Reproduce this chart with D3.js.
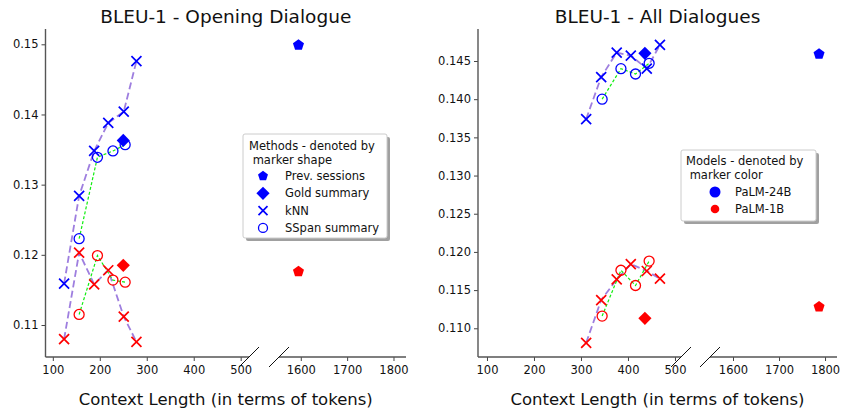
<!DOCTYPE html>
<html lang="en">
<head>
<meta charset="UTF-8">
<title>BLEU-1</title>
<style>
  body { margin: 0; background: #fff; }
  svg { font-family: "DejaVu Sans", sans-serif; }
</style>
</head>
<body>
<svg id="chart"></svg>
<script src="https://cdn.jsdelivr.net/npm/d3@7/dist/d3.min.js"></script>
<script>

// ---- data (context length in tokens, BLEU-1) ----
// Opening dialogue
var openKnnCtx    = [124, 156, 188, 218, 251, 278];
var openKnn24B    = [0.1159, 0.1284, 0.1348, 0.1388, 0.1404, 0.1476];
var openKnn1B     = [0.1080, 0.1203, 0.1158, 0.1178, 0.1112, 0.1076];
var openSspanCtx  = [156, 195, 228, 254];
var openSspan24B  = [0.1223, 0.1339, 0.1348, 0.1357];
var openSspan1B   = [0.1115, 0.1199, 0.1164, 0.1161];
var openGoldCtx   = [250];
var openGold24B   = [0.1363];
var openGold1B    = [0.1185];
var openPrevCtx   = [1595];
var openPrev24B   = [0.1499];
var openPrev1B    = [0.1176];

// All dialogues
var allKnnCtx     = [311, 343, 376, 406, 440, 468];
var allKnn24B     = [0.1374, 0.1429, 0.1461, 0.1457, 0.1440, 0.1471];
var allKnn1B      = [0.1081, 0.1137, 0.1164, 0.1184, 0.1175, 0.1165];
var allSspanCtx   = [345, 385, 416, 445];
var allSspan24B   = [0.1400, 0.1440, 0.1433, 0.1447];
var allSspan1B    = [0.1116, 0.1176, 0.1156, 0.1188];
var allGoldCtx    = [436];
var allGold24B    = [0.1460];
var allGold1B     = [0.1113];
var allPrevCtx    = [1787];
var allPrev24B    = [0.1459];
var allPrev1B     = [0.1128];

var xTicksLow  = [100, 200, 300, 400, 500];
var xTicksHigh = [1600, 1700, 1800];
var yTicksOpen = [0.11, 0.12, 0.13, 0.14, 0.15];
var yTicksAll  = [0.110, 0.115, 0.120, 0.125, 0.130, 0.135, 0.140, 0.145];

var methodNames = ["Prev. sessions", "Gold summary", "kNN", "SSpan summary"];
var methodShapes = ["pentagon", "diamond", "x", "circle"];
var modelNames = ["PaLM-24B", "PaLM-1B"];
var modelColors = ["#0000ff", "#ff0000"];

var width = 841, height = 412;
var svg = d3.select("#chart").attr("width", width).attr("height", height);

// marker paths
function markerPath(shape, r) {
    var p = d3.path();
    if (shape == "pentagon") {
        for (var k = 0; k < 5; k++) {
            var a = -Math.PI / 2 + k * 2 * Math.PI / 5;
            if (k == 0) p.moveTo(r * Math.cos(a), r * Math.sin(a));
            else p.lineTo(r * Math.cos(a), r * Math.sin(a));
        }
        p.closePath();
    } else if (shape == "diamond") {
        p.moveTo(0, -r); p.lineTo(r, 0); p.lineTo(0, r); p.lineTo(-r, 0); p.closePath();
    } else if (shape == "x") {
        p.moveTo(-r, -r); p.lineTo(r, r); p.moveTo(-r, r); p.lineTo(r, -r);
    } else {
        p.arc(0, 0, r, 0, 2 * Math.PI);
    }
    return p.toString();
}
var markerSize = { pentagon: 5.8, diamond: 6.6, x: 5, circle: 5 };

function drawMarker(g, shape, color, x, y, scale) {
    var r = markerSize[shape] * (scale || 1);
    var m = g.append("path")
        .attr("d", markerPath(shape, r))
        .attr("transform", "translate(" + x + "," + y + ")");
    if (shape == "x") m.attr("fill", "none").attr("stroke", color).attr("stroke-width", 1.7);
    else if (shape == "circle") m.attr("fill", "none").attr("stroke", color).attr("stroke-width", 1.3);
    else m.attr("fill", color);
}

function drawPanel(cfg) {
    var g = svg.append("g");
    var xLow = d3.scaleLinear().domain(cfg.lowDomain).range(cfg.lowRange);
    var xHigh = d3.scaleLinear().domain(cfg.highDomain).range(cfg.highRange);
    var y = d3.scaleLinear().domain(cfg.yDomain).range([357, 29]);
    function xPos(v) { return v < 1000 ? xLow(v) : xHigh(v); }

    // axes
    var axL = g.append("g").attr("transform", "translate(" + cfg.lowRange[0] + ",0)")
        .call(d3.axisLeft(y).tickValues(cfg.yTicks).tickFormat(d3.format(cfg.yFmt)).tickSize(4).tickPadding(3));
    var axB1 = g.append("g").attr("transform", "translate(0,357)")
        .call(d3.axisBottom(xLow).tickValues(xTicksLow).tickFormat(d3.format("d")).tickSize(4).tickPadding(3));
    var axB2 = g.append("g").attr("transform", "translate(0,357)")
        .call(d3.axisBottom(xHigh).tickValues(xTicksHigh).tickFormat(d3.format("d")).tickSize(4).tickPadding(3));
    [axL, axB1, axB2].forEach(function (a) {
        a.selectAll(".domain").remove();
        a.selectAll(".tick line").attr("stroke", "#444").attr("stroke-width", 1);
        a.selectAll(".tick text").attr("font-size", 11.5).attr("fill", "#111")
            .attr("font-family", "DejaVu Sans");
    });
    axB1.selectAll(".tick text").attr("dy", "0.85em");
    axB2.selectAll(".tick text").attr("dy", "0.85em");

    // spines
    var spine = "#555";
    g.append("line").attr("x1", cfg.lowRange[0]).attr("x2", cfg.lowRange[0])
        .attr("y1", 29).attr("y2", 357).attr("stroke", spine).attr("stroke-width", 1.4);
    g.append("line").attr("x1", cfg.lowRange[0]).attr("x2", cfg.lowRange[1])
        .attr("y1", 357).attr("y2", 357).attr("stroke", spine).attr("stroke-width", 1.4);
    g.append("line").attr("x1", cfg.highRange[0]).attr("x2", cfg.highRange[1])
        .attr("y1", 357).attr("y2", 357).attr("stroke", spine).attr("stroke-width", 1.4);

    // break marks
    [cfg.lowRange[1], cfg.highRange[0]].forEach(function (bx) {
        g.append("line").attr("x1", bx - 10).attr("y1", 367).attr("x2", bx + 10).attr("y2", 347)
            .attr("stroke", "#111").attr("stroke-width", 1);
    });

    // connecting lines
    var line = d3.line().x(function (d) { return xPos(d[0]); }).y(function (d) { return y(d[1]); });
    [cfg.knn24B, cfg.knn1B].forEach(function (vals) {
        g.append("path").datum(d3.zip(cfg.knnCtx, vals)).attr("d", line)
            .attr("fill", "none").attr("stroke", "#9370db").attr("stroke-width", 1.8)
            .attr("stroke-opacity", 0.9).attr("stroke-dasharray", "7,3.5");
    });
    [cfg.sspan24B, cfg.sspan1B].forEach(function (vals) {
        g.append("path").datum(d3.zip(cfg.sspanCtx, vals)).attr("d", line)
            .attr("fill", "none").attr("stroke", "#11ee11").attr("stroke-width", 1.2)
            .attr("stroke-dasharray", "3,2");
    });

    // markers
    var sets = [
        ["x", cfg.knnCtx, cfg.knn24B, cfg.knn1B],
        ["circle", cfg.sspanCtx, cfg.sspan24B, cfg.sspan1B],
        ["diamond", cfg.goldCtx, cfg.gold24B, cfg.gold1B],
        ["pentagon", cfg.prevCtx, cfg.prev24B, cfg.prev1B]
    ];
    sets.forEach(function (s) {
        s[1].forEach(function (cx, i) {
            drawMarker(g, s[0], modelColors[0], xPos(cx), y(s[2][i]));
            drawMarker(g, s[0], modelColors[1], xPos(cx), y(s[3][i]));
        });
    });

    // title + x label
    var cx = (cfg.lowRange[0] + cfg.highRange[1]) / 2;
    g.append("text").attr("x", cx).attr("y", 23).attr("text-anchor", "middle")
        .attr("font-size", 18.5).attr("fill", "#111").text(cfg.title);
    g.append("text").attr("x", cx).attr("y", 405).attr("text-anchor", "middle")
        .attr("font-size", 16.5).attr("fill", "#111").text("Context Length (in terms of tokens)");
}

function legendBox(x, y, w, h) {
    svg.append("rect").attr("x", x + 3).attr("y", y + 3).attr("width", w).attr("height", h)
        .attr("rx", 2).attr("fill", "#888").attr("opacity", 0.8);
    svg.append("rect").attr("x", x).attr("y", y).attr("width", w).attr("height", h)
        .attr("rx", 2).attr("fill", "#fff").attr("stroke", "#ccc").attr("stroke-width", 1);
}

drawPanel({
    title: "BLEU-1 - Opening Dialogue",
    lowDomain: [84.4, 517.7], lowRange: [45.5, 249],
    highDomain: [1553, 1827], highRange: [279, 406],
    yDomain: [0.10544, 0.15218], yTicks: yTicksOpen, yFmt: ".2f",
    knnCtx: openKnnCtx, knn24B: openKnn24B, knn1B: openKnn1B,
    sspanCtx: openSspanCtx, sspan24B: openSspan24B, sspan1B: openSspan1B,
    goldCtx: openGoldCtx, gold24B: openGold24B, gold1B: openGold1B,
    prevCtx: openPrevCtx, prev24B: openPrev24B, prev1B: openPrev1B
});

drawPanel({
    title: "BLEU-1 - All Dialogues",
    lowDomain: [80.9, 512.8], lowRange: [478, 681],
    highDomain: [1550, 1826], highRange: [710, 837],
    yDomain: [0.10624, 0.14919], yTicks: yTicksAll, yFmt: ".3f",
    knnCtx: allKnnCtx, knn24B: allKnn24B, knn1B: allKnn1B,
    sspanCtx: allSspanCtx, sspan24B: allSspan24B, sspan1B: allSspan1B,
    goldCtx: allGoldCtx, gold24B: allGold24B, gold1B: allGold1B,
    prevCtx: allPrevCtx, prev24B: allPrev24B, prev1B: allPrev1B
});

// legend: methods (marker shape)
legendBox(243, 134, 144, 104);
svg.append("text").attr("x", 249).attr("y", 150).attr("font-size", 11.5).attr("fill", "#111")
    .text("Methods - denoted by");
svg.append("text").attr("x", 249).attr("y", 164).attr("font-size", 11.5).attr("fill", "#111")
    .text("\u00a0marker shape");
methodNames.forEach(function (name, i) {
    var ly = 176 + i * 17.3;
    drawMarker(svg, methodShapes[i], modelColors[0], 263, ly, i == 1 ? 1 : 0.9);
    svg.append("text").attr("x", 285).attr("y", ly + 4).attr("font-size", 11.5).attr("fill", "#111")
        .text(name);
});

// legend: models (marker color)
legendBox(681, 150, 135, 71);
svg.append("text").attr("x", 686).attr("y", 165).attr("font-size", 11.5).attr("fill", "#111")
    .text("Models - denoted by");
svg.append("text").attr("x", 686).attr("y", 179).attr("font-size", 11.5).attr("fill", "#111")
    .text("\u00a0marker color");
modelNames.forEach(function (name, i) {
    var ly = 192 + i * 17;
    svg.append("circle").attr("cx", 715).attr("cy", ly).attr("r", i == 0 ? 5.5 : 4.3)
        .attr("fill", modelColors[i]);
    svg.append("text").attr("x", 735).attr("y", ly + 4).attr("font-size", 11.5).attr("fill", "#111")
        .text(name);
});

</script>
</body>
</html>
